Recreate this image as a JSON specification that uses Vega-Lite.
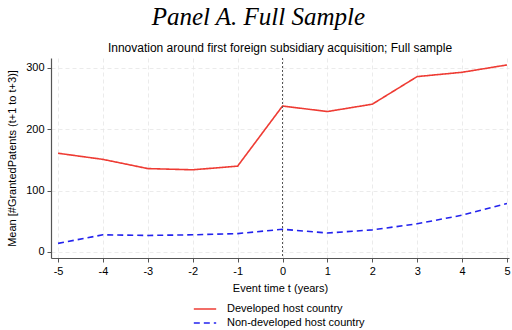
{
  "$schema": "https://vega.github.io/schema/vega-lite/v6.json",
  "padding": {"left": 6, "top": 4, "right": 0, "bottom": 0},
  "background": "white",
  "config": {
    "font": "Liberation Sans",
    "view": {"stroke": null},
    "concat": {"spacing": 0}
  },
  "title": {
    "text": "Panel A. Full Sample",
    "font": "Liberation Serif",
    "fontStyle": "italic",
    "fontWeight": "normal",
    "fontSize": 25,
    "color": "black",
    "anchor": "middle",
    "frame": "bounds",
    "offset": 12
  },
  "vconcat": [
    {
      "width": 458,
      "height": 200,
      "title": {
        "text": "Innovation around first foreign subsidiary acquisition; Full sample",
        "font": "Liberation Sans",
        "fontSize": 12,
        "fontWeight": "normal",
        "color": "black",
        "anchor": "middle",
        "frame": "group",
        "offset": 3
      },
      "layer": [
        {
          "data": {
            "values": [
              {"t": -5, "mean": 161, "group": "Developed host country"},
              {"t": -4, "mean": 151, "group": "Developed host country"},
              {"t": -3, "mean": 136, "group": "Developed host country"},
              {"t": -2, "mean": 134, "group": "Developed host country"},
              {"t": -1, "mean": 140, "group": "Developed host country"},
              {"t": 0, "mean": 238, "group": "Developed host country"},
              {"t": 1, "mean": 229, "group": "Developed host country"},
              {"t": 2, "mean": 241, "group": "Developed host country"},
              {"t": 3, "mean": 286, "group": "Developed host country"},
              {"t": 4, "mean": 293, "group": "Developed host country"},
              {"t": 5, "mean": 305, "group": "Developed host country"},
              {"t": -5, "mean": 14, "group": "Non-developed host country"},
              {"t": -4, "mean": 28, "group": "Non-developed host country"},
              {"t": -3, "mean": 27, "group": "Non-developed host country"},
              {"t": -2, "mean": 28, "group": "Non-developed host country"},
              {"t": -1, "mean": 30, "group": "Non-developed host country"},
              {"t": 0, "mean": 37, "group": "Non-developed host country"},
              {"t": 1, "mean": 31, "group": "Non-developed host country"},
              {"t": 2, "mean": 36, "group": "Non-developed host country"},
              {"t": 3, "mean": 46, "group": "Non-developed host country"},
              {"t": 4, "mean": 60, "group": "Non-developed host country"},
              {"t": 5, "mean": 79, "group": "Non-developed host country"}
            ]
          },
          "mark": {"type": "line", "strokeWidth": 1.6},
          "encoding": {
            "x": {
              "field": "t",
              "type": "quantitative",
              "scale": {"domain": [-5.157, 5.045], "nice": false, "zero": false},
              "axis": {
                "values": [-5, -4, -3, -2, -1, 0, 1, 2, 3, 4, 5],
                "labelExpr": "toString(datum.value)",
                "title": "Event time t (years)",
                "titleFontSize": 11,
                "titleFontWeight": "normal",
                "titleColor": "black",
                "titlePadding": 6,
                "labelFontSize": 11,
                "labelColor": "black",
                "labelPadding": 3,
                "domainColor": "#555555",
                "domainWidth": 1.2,
                "tickColor": "#555555",
                "tickSize": 4,
                "grid": true,
                "gridColor": "#e6e6e6",
                "gridDash": [4, 3],
                "gridWidth": 0.8
              }
            },
            "y": {
              "field": "mean",
              "type": "quantitative",
              "scale": {"domain": [-9.8, 316.3], "nice": false, "zero": false},
              "axis": {
                "values": [0, 100, 200, 300],
                "title": "Mean [#GrantedPatents (t+1 to t+3)]",
                "titleFontSize": 11,
                "titleFontWeight": "normal",
                "titleColor": "black",
                "titlePadding": 8,
                "labelFontSize": 11,
                "labelColor": "black",
                "labelPadding": 3,
                "domainColor": "#555555",
                "domainWidth": 1.2,
                "tickColor": "#555555",
                "tickSize": 4,
                "grid": true,
                "gridColor": "#e6e6e6",
                "gridDash": [4, 3],
                "gridWidth": 0.8
              }
            },
            "color": {
              "field": "group",
              "type": "nominal",
              "scale": {
                "domain": ["Developed host country", "Non-developed host country"],
                "range": ["#ee3b33", "#2323ee"]
              },
              "legend": {
                "title": null,
                "orient": "none",
                "legendX": 142,
                "legendY": 244,
                "direction": "vertical",
                "labelFontSize": 11,
                "labelColor": "black",
                "symbolType": "stroke",
                "symbolSize": 500,
                "symbolStrokeWidth": 1.6,
                "clipHeight": 14,
                "rowPadding": 0,
                "labelOffset": 10,
                "padding": 0
              }
            },
            "strokeDash": {
              "field": "group",
              "type": "nominal",
              "scale": {
                "domain": ["Developed host country", "Non-developed host country"],
                "range": [[1, 0], [6, 4]]
              },
              "legend": null
            }
          }
        },
        {
          "data": {"values": [{"t": 0}]},
          "mark": {"type": "rule", "color": "#555555", "strokeDash": [2, 2], "strokeWidth": 1},
          "encoding": {"x": {"field": "t", "type": "quantitative"}}
        }
      ]
    }
  ]
}
